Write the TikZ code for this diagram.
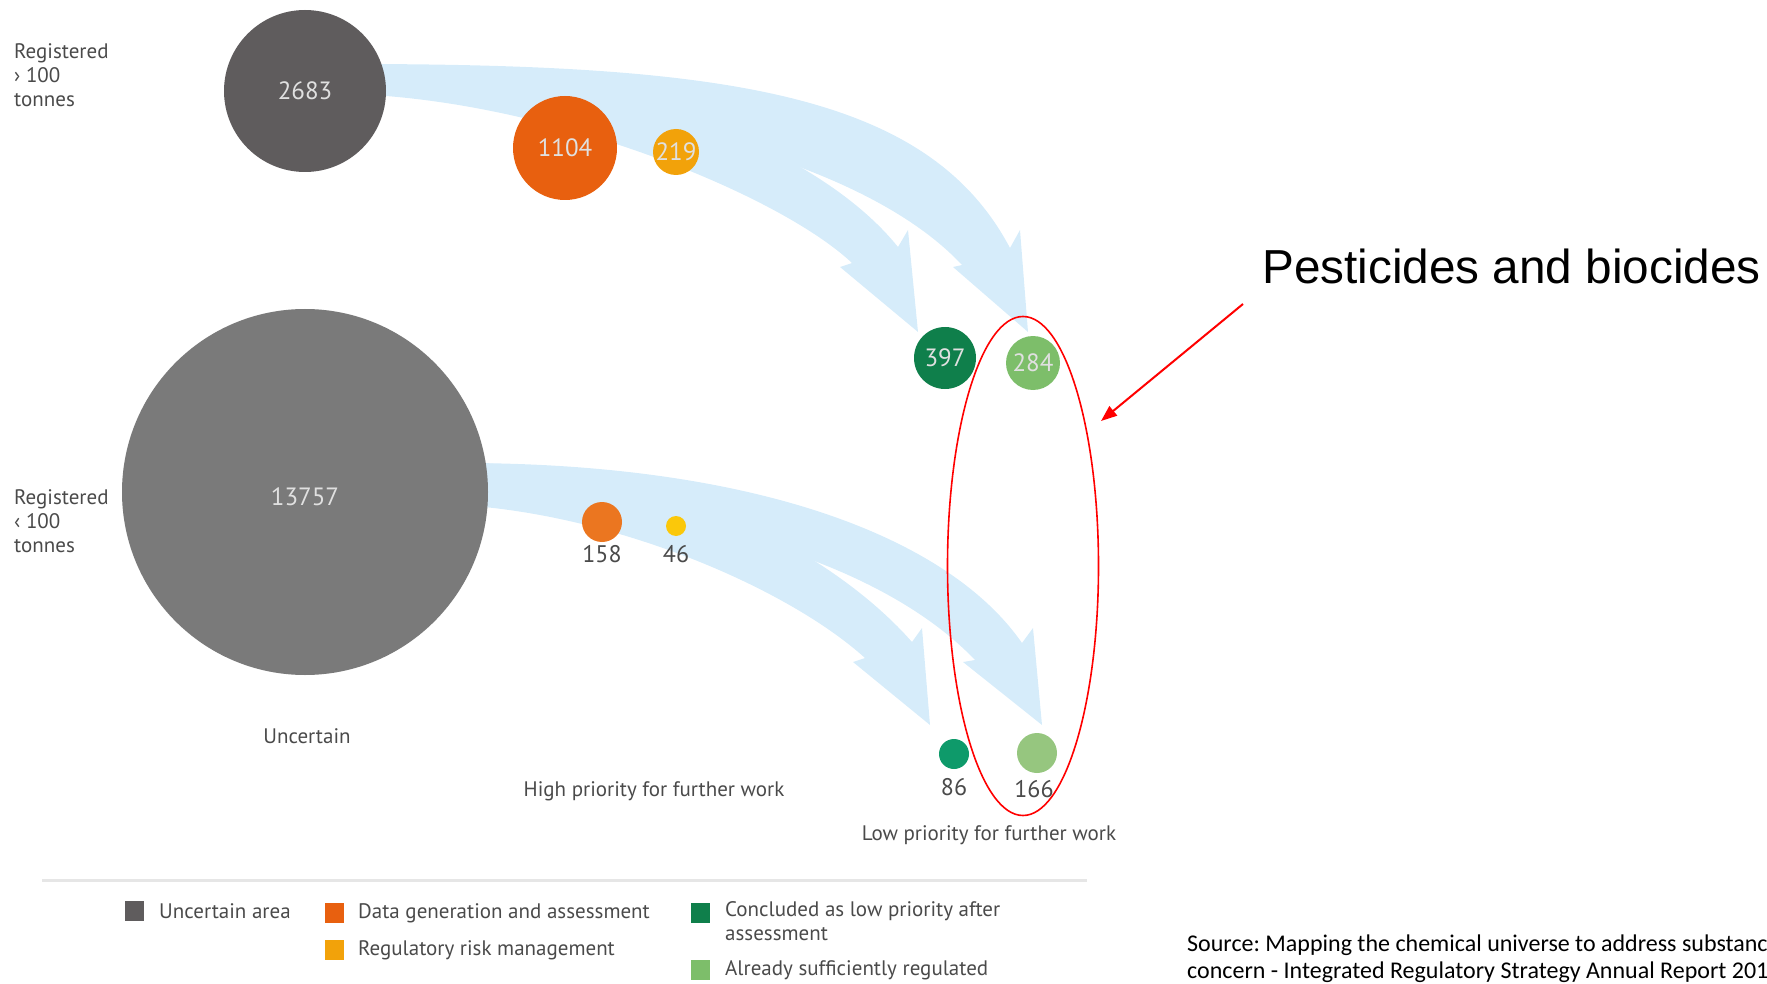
\documentclass[tikz,border=0pt]{standalone}
\usepackage{fontspec}
\setmainfont{PT Sans}
\newfontfamily\cf{PT Sans}
\newfontfamily\af{Liberation Sans}
\newfontfamily\srcfont{Carlito}
\usetikzlibrary{shapes.geometric,arrows.meta}
\definecolor{flowblue}{HTML}{D6ECFA}
\definecolor{gdark}{HTML}{5F5C5D}
\definecolor{gmid}{HTML}{7A7A7A}
\definecolor{orA}{HTML}{E8600F}
\definecolor{yeA}{HTML}{F2A20A}
\definecolor{orB}{HTML}{EB7620}
\definecolor{yeB}{HTML}{FBC80A}
\definecolor{grA}{HTML}{0F7F4B}
\definecolor{grB}{HTML}{7DBE6A}
\definecolor{grC}{HTML}{0E9A6A}
\definecolor{grD}{HTML}{96C67F}
\definecolor{lblgray}{HTML}{4A4A4A}
\definecolor{rulegray}{HTML}{E6E6E6}
\frenchspacing
\begin{document}
\begin{tikzpicture}[x=1pt,y=-1pt,
  flow/.style={fill=flowblue,draw=none},
  bub/.style={circle,inner sep=0pt,text=white!88!black,font=\cf\fontsize{25}{25}\selectfont},
  dot/.style={circle,inner sep=0pt},
  lbl/.style={inner sep=0pt,text=lblgray,font=\cf\fontsize{21}{24}\selectfont},
  num/.style={inner sep=0pt,text=lblgray,font=\cf\fontsize{24}{24}\selectfont},
  leg/.style={inner sep=0pt,text=lblgray,font=\cf\fontsize{21}{24}\selectfont,anchor=west,align=left},
  sq/.style={minimum width=19pt,minimum height=20pt,inner sep=0pt}]
\useasboundingbox (0,0) rectangle (1767,984);

% flows (upper)
\fill[flow] (350,64) .. controls (733,64) and (929,95) .. (1010,248) -- (1020,230) -- (1028,332) -- (953,267) -- (962,265) .. controls (850,145) and (560,94) .. (350,94) -- cycle;
\fill[flow] (350,64) .. controls (620,64) and (820,150) .. (898,247) -- (908,230) -- (918,332) -- (840,267) -- (852,263) .. controls (780,195) and (550,100) .. (350,94) -- cycle;
% flows (lower)
\fill[flow] (460,463) .. controls (750,463) and (947,535) .. (1022,643) -- (1033,628) -- (1042,725) -- (963,662) -- (975,660) .. controls (875,555) and (660,500) .. (460,505) -- cycle;
\fill[flow] (460,463) .. controls (680,463) and (840,560) .. (912,642) -- (922,628) -- (930,725) -- (853,662) -- (865,658) .. controls (790,590) and (620,515) .. (460,505) -- cycle;

% bubbles
\node[bub,fill=gdark,minimum size=162pt] (n2683) at (305,91) {2683};
\node[bub,fill=orA,minimum size=104pt] (n1104) at (565,148) {1104};
\node[bub,fill=yeA,minimum size=46pt] (n219) at (676,152) {219};
\node[bub,fill=grA,minimum size=62pt] (n397) at (945,358) {397};
\node[bub,fill=grB,minimum size=54pt] (n284) at (1033,363) {284};
\node[bub,fill=gmid,minimum size=366pt] (n13757) at (305,492) {};
\node[bub] (t13757) at (305,497) {13757};
\node[dot,fill=orB,minimum size=40pt] (n158) at (602,522) {};
\node[dot,fill=yeB,minimum size=20pt] (n46) at (676,526) {};
\node[dot,fill=grC,minimum size=30pt] (n86) at (954,754) {};
\node[dot,fill=grD,minimum size=40pt] (n166) at (1037,753) {};
\node[num] (t158) at (602,554) {158};
\node[num] (t46) at (676,554) {46};
\node[num] (t86) at (954,787) {86};
\node[num] (t166) at (1034,789) {166};

% labels
\node[lbl,anchor=west,align=left] (reg1) at (14,75) {Registered\\› 100\\tonnes};
\node[lbl,anchor=west,align=left] (reg2) at (14,521) {Registered\\‹ 100\\tonnes};
\node[lbl] (unc) at (307,736) {Uncertain};
\node[lbl] (high) at (654,791) {High priority for further work};
\node[lbl] (low) at (989,835) {Low priority for further work};

% legend
\draw[rulegray,line width=3pt] (42,880) coordinate (rl) -- (1087,880) coordinate (rr);
\node[sq,fill=gdark] (s1) at (134,911) {};
\node[leg] (l1) at (159,911) {Uncertain area};
\node[sq,fill=orA] (s2) at (334,913) {};
\node[leg] (l2) at (358,913) {Data generation and assessment};
\node[sq,fill=yeA] (s3) at (334,950) {};
\node[leg] (l3) at (358,950) {Regulatory risk management};
\node[sq,fill=grA] (s4) at (700,913) {};
\node[leg,anchor=north west] (l4) at (725,901) {Concluded as low priority after\\assessment};
\node[sq,fill=grB] (s5) at (700,970) {};
\node[leg] (l5) at (725,970) {Already sufficiently regulated};

% annotation
\node[draw=red,line width=1.6pt,ellipse,minimum width=151pt,minimum height=499pt,inner sep=0pt] (ell) at (1023,566) {};
\node[anchor=base west,inner sep=0pt,font=\af\fontsize{47.7}{50}\selectfont] (pest) at (1262,284) {Pesticides and biocides};
\coordinate (astart) at (1243,304);
\coordinate (atip) at (1101,421);
\draw[red,line width=2pt,-{Triangle[length=16pt,width=12pt]}] (astart) -- (atip);

\node[anchor=base west,inner sep=0pt,font=\srcfont\fontsize{24}{26}\selectfont] (src1) at (1187,951) {Source: Mapping the chemical universe to address substanc};
\node[anchor=base west,inner sep=0pt,font=\srcfont\fontsize{24}{26}\selectfont] (src2) at (1187,978) {concern - Integrated Regulatory Strategy Annual Report 201};
\end{tikzpicture}
\end{document}
